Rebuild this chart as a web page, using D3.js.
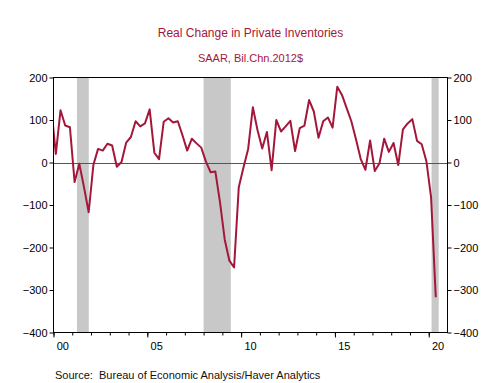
<!DOCTYPE html>
<html><head><meta charset="utf-8">
<script src="https://cdn.jsdelivr.net/npm/d3@7/dist/d3.min.js"></script>
<style>
html,body{margin:0;padding:0;background:#fff;}
svg{display:block;font-family:Arial,"Liberation Sans",sans-serif;}
</style></head>
<body>
<svg id="chart" width="501" height="383"></svg>
<script>
// ---- data ----
const title = "Real Change in Private Inventories";
const subtitle = "SAAR, Bil.Chn.2012$";
const source = "Source:  Bureau of Economic Analysis/Haver Analytics";
const quarters = [
 "1999Q4",
 "2000Q1","2000Q2","2000Q3","2000Q4","2001Q1","2001Q2","2001Q3","2001Q4",
 "2002Q1","2002Q2","2002Q3","2002Q4","2003Q1","2003Q2","2003Q3","2003Q4",
 "2004Q1","2004Q2","2004Q3","2004Q4","2005Q1","2005Q2","2005Q3","2005Q4",
 "2006Q1","2006Q2","2006Q3","2006Q4","2007Q1","2007Q2","2007Q3","2007Q4",
 "2008Q1","2008Q2","2008Q3","2008Q4","2009Q1","2009Q2","2009Q3","2009Q4",
 "2010Q1","2010Q2","2010Q3","2010Q4","2011Q1","2011Q2","2011Q3","2011Q4",
 "2012Q1","2012Q2","2012Q3","2012Q4","2013Q1","2013Q2","2013Q3","2013Q4",
 "2014Q1","2014Q2","2014Q3","2014Q4","2015Q1","2015Q2","2015Q3","2015Q4",
 "2016Q1","2016Q2","2016Q3","2016Q4","2017Q1","2017Q2","2017Q3","2017Q4",
 "2018Q1","2018Q2","2018Q3","2018Q4","2019Q1","2019Q2","2019Q3","2019Q4",
 "2020Q1","2020Q2"
];
const inventories = [
 130,
 20,123,87,83, -46,-3,-58,-117,
 -6,32,28,44, 40,-10,1,47,
 60,97,85,92, 125,23,8,96,
 104,94,97,64, 28,56,45,35,
 2,-23,-21,-94, -181,-231,-247,-58,
 -12,32,130,76, 33,72,-18,100,
 73,85,98,27, 81,87,147,120,
 58,97,106,82, 178,159,128,97,
 54,8,-17,52, -20,-2,56,25,
 46,-6,78,92, 102,51,43,3,
 -82,-317
];
const recessions = [[2001.25, 2001.88], [2008.0, 2009.45], [2020.15, 2020.53]];
const yTicks = [-400,-300,-200,-100,0,100,200];
const xMajorYears = [2000,2005,2010,2015,2020];
const xLabels = ["00","05","10","15","20"];
const xMinorYears = d3.range(2000, 2021);

// ---- layout ----
const L = 53.5, R = 447.5, T = 77.5, B = 332.5;
const svg = d3.select("#chart");
const toTime = q => +q.slice(0,4) + (+q.slice(5) - 0.5) / 4;

const x = d3.scaleLinear().domain([2000, 2021]).range([L, R]);
const y = d3.scaleLinear().domain([-400, 200]).range([B, T]);

const red = "#A3173A";

svg.append("text").attr("x", 250.5).attr("y", 36.5).attr("text-anchor","middle")
  .attr("font-size", 12).attr("fill", red).text(title);
svg.append("text").attr("x", 250.5).attr("y", 61.5).attr("text-anchor","middle")
  .attr("font-size", 11).attr("fill", red).text(subtitle);

svg.append("defs").append("clipPath").attr("id","clip")
  .append("rect").attr("x", L).attr("y", T).attr("width", R-L).attr("height", B-T);

// recession shading
svg.append("g").selectAll("rect").data(recessions).join("rect")
  .attr("x", d => x(d[0])).attr("y", T).attr("width", d => x(d[1]) - x(d[0]))
  .attr("height", B - T).attr("fill", "#C8C8C8");

// zero line
svg.append("line").attr("x1", L).attr("x2", R)
  .attr("y1", Math.round(y(0)) + 0.5).attr("y2", Math.round(y(0)) + 0.5)
  .attr("stroke", "#555").attr("stroke-width", 1);

// series line
const line = d3.line().x((d,i) => x(toTime(quarters[i]))).y(d => y(d));
svg.append("path").datum(inventories).attr("clip-path","url(#clip)")
  .attr("d", line).attr("fill","none").attr("stroke", red)
  .attr("stroke-width", 2).attr("stroke-linejoin","round");

// frame
svg.append("rect").attr("x", L).attr("y", T).attr("width", R-L).attr("height", B-T)
  .attr("fill","none").attr("stroke","#000").attr("stroke-width",1);

// left axis
const gl = svg.append("g").attr("transform", `translate(${L},0)`)
  .call(d3.axisLeft(y).tickValues(yTicks).tickSize(4).tickSizeOuter(0).tickPadding(2));
// right axis
const gr = svg.append("g").attr("transform", `translate(${R},0)`)
  .call(d3.axisRight(y).tickValues(yTicks).tickSize(4).tickSizeOuter(0).tickPadding(2));
[gl, gr].forEach(g => {
  g.select(".domain").remove();
  g.selectAll("text").attr("font-size", 11).attr("font-family","Arial,'Liberation Sans',sans-serif").attr("fill","#000");
  g.selectAll("line").attr("stroke","#000");
});

// bottom minor ticks
const gbm = svg.append("g").attr("transform", `translate(0,${B})`)
  .call(d3.axisBottom(x).tickValues(xMinorYears).tickSize(3).tickFormat(""));
gbm.select(".domain").remove();
gbm.selectAll("line").attr("stroke","#000");
// bottom major ticks
const gbM = svg.append("g").attr("transform", `translate(0,${B})`)
  .call(d3.axisBottom(x).tickValues(xMajorYears).tickSize(5).tickFormat(""));
gbM.select(".domain").remove();
gbM.selectAll("line").attr("stroke","#000");
// labels centered in the year
svg.append("g").selectAll("text").data(xMajorYears).join("text")
  .attr("x", d => x(d + 0.5)).attr("y", 349.5).attr("text-anchor","middle")
  .attr("font-size", 11).attr("fill","#000").text((d,i) => xLabels[i]);

svg.append("text").attr("x", 55).attr("y", 378.5).attr("font-size", 11)
  .attr("fill","#111").attr("xml:space","preserve").style("white-space","pre").text(source);
</script>
</body></html>
